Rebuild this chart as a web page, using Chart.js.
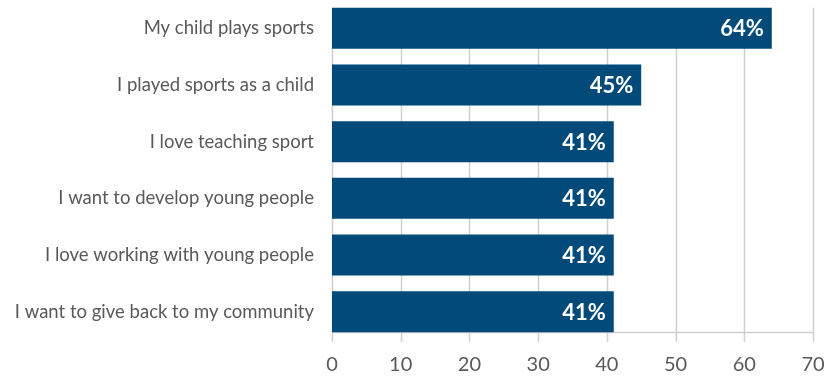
<!DOCTYPE html>
<html>
<head>
<meta charset="utf-8">
<script src="https://cdn.jsdelivr.net/npm/chart.js@4/dist/chart.umd.min.js"></script>
<style>
  html, body { margin: 0; padding: 0; background: #fff; overflow: hidden; }
  canvas { display: block; }
</style>
</head>
<body>
<canvas id="chart" width="826" height="377"></canvas>
<script>
const reasons = [
  "My child plays sports",
  "I played sports as a child",
  "I love teaching sport",
  "I want to develop young people",
  "I love working with young people",
  "I want to give back to my community"
];
const shares = [64, 45, 41, 41, 41, 41];
const tickValues = [0, 10, 20, 30, 40, 50, 60, 70];

const barColor = "#024a7a";
const gridColor = "#cfcfcf";
const textColor = "#595959";

// grid lines + axis line, drawn from the bar geometry so they start at the first bar
const gridPlugin = {
  id: "gridLines",
  beforeDatasetsDraw(chart) {
    const ctx = chart.ctx;
    const meta = chart.getDatasetMeta(0);
    const first = meta.data[0];
    const last = meta.data[meta.data.length - 1];
    const top = first.y - first.height / 2;
    const axisY = Math.round(last.y + last.height / 2);
    const xs = chart.scales.x;
    ctx.save();
    ctx.strokeStyle = gridColor;
    ctx.lineWidth = 1.5;
    tickValues.forEach(v => {
      const px = Math.round(xs.getPixelForValue(v)) + 0.5;
      ctx.beginPath();
      ctx.moveTo(px, top);
      ctx.lineTo(px, axisY + 10);
      ctx.stroke();
    });
    ctx.beginPath();
    ctx.moveTo(xs.getPixelForValue(0), axisY + 0.5);
    ctx.lineTo(xs.getPixelForValue(70), axisY + 0.5);
    ctx.stroke();
    ctx.restore();
  }
};

// value labels inside the bar ends
const valuePlugin = {
  id: "valueLabels",
  afterDatasetsDraw(chart) {
    const ctx = chart.ctx;
    const meta = chart.getDatasetMeta(0);
    ctx.save();
    ctx.fillStyle = "#ffffff";
    ctx.font = "bold 22px Lato";
    ctx.textAlign = "right";
    ctx.textBaseline = "middle";
    meta.data.forEach((bar, i) => {
      ctx.fillText(shares[i] + "%", bar.x - 8, bar.y + 1);
    });
    ctx.restore();
  }
};

new Chart(document.getElementById("chart"), {
  type: "bar",
  data: {
    labels: reasons,
    datasets: [{
      data: shares,
      backgroundColor: barColor,
      categoryPercentage: 1,
      barPercentage: 0.7235
    }]
  },
  options: {
    indexAxis: "y",
    responsive: false,
    animation: false,
    layout: { padding: 0 },
    plugins: {
      legend: { display: false },
      tooltip: { enabled: false }
    },
    scales: {
      x: {
        min: 0,
        max: 70,
        afterBuildTicks(scale) {
          scale.ticks = tickValues.map(v => ({ value: v }));
        },
        afterFit(scale) {
          scale.height = 37;
          scale.paddingRight = 13;
        },
        grid: { display: false },
        border: { display: false },
        ticks: {
          color: textColor,
          font: { family: "Lato", size: 20 },
          padding: 5
        }
      },
      y: {
        afterFit(scale) {
          scale.width = 332;
          scale.paddingTop = 0;
          scale.paddingBottom = 0;
        },
        grid: { display: false },
        border: { display: false },
        ticks: {
          color: textColor,
          font: { family: "Lato", size: 18.5 },
          padding: 10
        }
      }
    }
  },
  plugins: [gridPlugin, valuePlugin]
});
</script>
</body>
</html>
